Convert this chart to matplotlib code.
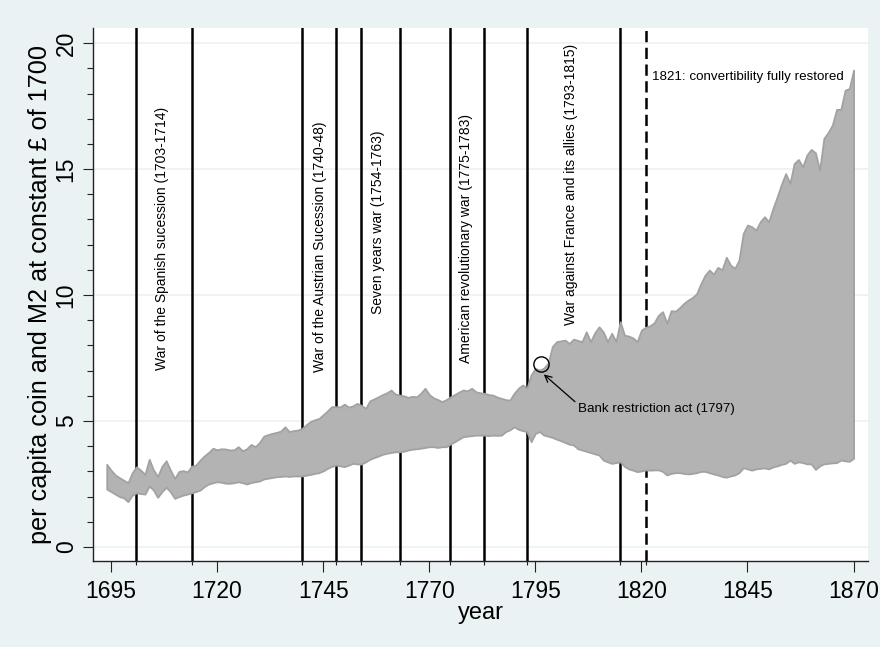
import numpy as np
import matplotlib
matplotlib.use("Agg")
import matplotlib.pyplot as plt
from matplotlib.ticker import MultipleLocator, FixedLocator

# per capita coin (lower) and M2 (upper), constant pounds of 1700
years = list(range(1694, 1871))
m2 = [3.28, 3.05, 2.86, 2.75, 2.65, 2.55, 2.95, 3.18, 3.05, 2.88,
      3.48, 3.06, 2.80, 3.20, 3.42, 3.05, 2.72, 3.00, 3.03, 2.98,
      3.21, 3.25, 3.45, 3.62, 3.75, 3.92, 3.86, 3.90, 3.89, 3.85,
      3.86, 3.98, 3.82, 3.90, 4.07, 3.98, 4.15, 4.40, 4.46, 4.51,
      4.55, 4.60, 4.77, 4.58, 4.62, 4.64, 4.70, 4.85, 4.98, 5.05,
      5.10, 5.25, 5.40, 5.57, 5.57, 5.56, 5.67, 5.55, 5.60, 5.70,
      5.62, 5.50, 5.80, 5.88, 5.96, 6.05, 6.12, 6.23, 6.07, 6.03,
      6.00, 5.94, 5.98, 5.96, 6.10, 6.30, 6.05, 5.92, 5.85, 5.77,
      5.85, 5.96, 6.05, 6.15, 6.23, 6.20, 6.30, 6.16, 6.12, 6.10,
      6.05, 6.03, 5.95, 5.90, 5.85, 5.83, 6.10, 6.30, 6.43, 6.30,
      6.83, 7.09, 7.02, 7.10, 7.29, 7.95, 8.15, 8.18, 8.21, 8.08,
      8.25, 8.20, 8.15, 8.54, 8.15, 8.50, 8.74, 8.54, 8.15, 8.48,
      8.15, 8.94, 8.41, 8.37, 8.30, 8.15, 8.61, 8.72, 8.78, 8.90,
      9.20, 9.34, 8.88, 9.38, 9.36, 9.50, 9.67, 9.80, 9.90, 10.05,
      10.45, 10.79, 10.99, 10.83, 11.10, 11.00, 11.50, 11.19, 11.06, 11.39,
      12.45, 12.78, 12.71, 12.58, 12.91, 13.11, 12.91, 13.44, 13.90, 14.40,
      14.82, 14.43, 15.22, 15.38, 15.09, 15.56, 15.78, 15.65, 14.96, 16.22,
      16.45, 16.75, 17.37, 17.37, 18.13, 18.20, 18.93]
coin = [2.30, 2.20, 2.10, 2.00, 1.95, 1.80, 2.06, 2.15, 2.12, 2.10,
        2.42, 2.26, 1.97, 2.20, 2.37, 2.19, 1.93, 2.00, 2.06, 2.10,
        2.15, 2.20, 2.26, 2.40, 2.50, 2.55, 2.59, 2.57, 2.53, 2.53,
        2.55, 2.59, 2.55, 2.50, 2.56, 2.59, 2.62, 2.70, 2.73, 2.76,
        2.79, 2.80, 2.82, 2.80, 2.82, 2.82, 2.82, 2.85, 2.88, 2.92,
        2.95, 3.02, 3.12, 3.20, 3.25, 3.22, 3.19, 3.25, 3.32, 3.30,
        3.29, 3.38, 3.48, 3.55, 3.61, 3.68, 3.72, 3.75, 3.78, 3.78,
        3.80, 3.85, 3.88, 3.90, 3.92, 3.95, 3.98, 3.98, 3.95, 3.98,
        3.98, 4.09, 4.18, 4.28, 4.38, 4.40, 4.42, 4.44, 4.44, 4.44,
        4.42, 4.44, 4.43, 4.44, 4.58, 4.65, 4.77, 4.67, 4.62, 4.58,
        4.18, 4.51, 4.58, 4.44, 4.40, 4.35, 4.28, 4.22, 4.15, 4.08,
        4.05, 3.90, 3.85, 3.80, 3.75, 3.70, 3.65, 3.45, 3.38, 3.32,
        3.35, 3.38, 3.20, 3.10, 3.05, 2.99, 3.02, 3.06, 3.05, 3.06,
        3.06, 3.00, 2.86, 2.92, 2.95, 2.95, 2.92, 2.90, 2.92, 2.95,
        3.00, 3.00, 2.95, 2.90, 2.86, 2.80, 2.77, 2.82, 2.86, 2.95,
        3.15, 3.10, 3.05, 3.10, 3.12, 3.14, 3.10, 3.18, 3.22, 3.28,
        3.32, 3.45, 3.32, 3.38, 3.35, 3.30, 3.30, 3.08, 3.22, 3.30,
        3.32, 3.34, 3.35, 3.45, 3.42, 3.40, 3.52]

war_lines = [1701, 1714, 1740, 1748, 1754, 1763, 1775, 1783, 1793, 1815]
restored_year = 1821

war_labels = ["War of the Spanish sucession (1703-1714)",
              "War of the Austrian Sucession (1740-48)",
              "Seven years war (1754-1763)",
              "American revolutionary war (1775-1783)",
              "War against France and its allies (1793-1815)"]
war_label_x = [1707.0, 1744.3, 1757.9, 1778.7, 1803.3]
war_label_y = [12.26, 11.9, 12.9, 12.26, 14.4]

bg = "#EAF2F3"
plt.rcParams['font.family'] = ['Liberation Sans', 'DejaVu Sans']

fig = plt.figure(figsize=(8.8, 6.47), dpi=100, facecolor=bg)
ax = fig.add_axes([93/880, 1-561/647, 775/880, 533/647])
ax.set_facecolor("white")

for y in [0, 5, 10, 15, 20]:
    ax.axhline(y, color=bg, lw=1.2, zorder=0)

for x in war_lines:
    ax.axvline(x, color="black", lw=1.8, zorder=1)
ax.axvline(restored_year, color="black", lw=1.8, ls=(0, (4.5, 2.2)), zorder=1)

ax.fill_between(years, coin, m2, facecolor="#B3B3B3", edgecolor="#A2A2A2",
                lw=1.3, zorder=2)

for lab, x, y in zip(war_labels, war_label_x, war_label_y):
    ax.text(x, y, lab, rotation=90, ha="center", va="center", fontsize=10, zorder=3)

ax.text(1822.4, 18.66, "1821: convertibility fully restored", ha="left",
        va="center", fontsize=9.6, zorder=3)

ax.plot([1796.4], [7.25], marker="o", ms=11, mfc="none", mec="black", mew=1, zorder=4)
ax.annotate("Bank restriction act (1797)", xy=(1797.0, 6.85), xytext=(1805.0, 5.48),
            ha="left", va="center", fontsize=9.6, zorder=4,
            arrowprops=dict(arrowstyle="->", color="black", lw=0.9,
                            shrinkA=0, shrinkB=0, mutation_scale=12,
                            relpos=(0, 0.9)))

ax.set_xlim(1690.76, 1873.4)
ax.set_ylim(-0.556, 20.6)
ax.xaxis.set_major_locator(FixedLocator(list(range(1695, 1871, 25))))
ax.xaxis.set_minor_locator(FixedLocator(war_lines + [restored_year]))
ax.yaxis.set_major_locator(MultipleLocator(5))
ax.yaxis.set_minor_locator(MultipleLocator(1))

for side in ["top", "right"]:
    ax.spines[side].set_visible(False)
for side in ["left", "bottom"]:
    ax.spines[side].set_color("#222222")
    ax.spines[side].set_linewidth(1.0)

ax.tick_params(axis="x", which="major", length=8, width=0.8, color="#222222", pad=6)
ax.tick_params(axis="x", which="minor", length=3, width=0.8, color="#222222")
ax.tick_params(axis="y", which="major", length=7, width=0.8, color="#222222", pad=4)
ax.tick_params(axis="y", which="minor", length=4, width=0.8, color="#222222")

for t in ax.get_xticklabels():
    t.set_fontsize(16.5)
for t in ax.get_yticklabels():
    t.set_fontsize(16.5)
    t.set_rotation(90)
    t.set_va("center")

ax.set_xlabel("year", fontsize=17, labelpad=-1)
ax.set_ylabel("per capita coin and M2 at constant £ of 1700", fontsize=18.2,
              labelpad=2)

fig.savefig("out.png", dpi=100, facecolor=bg)
